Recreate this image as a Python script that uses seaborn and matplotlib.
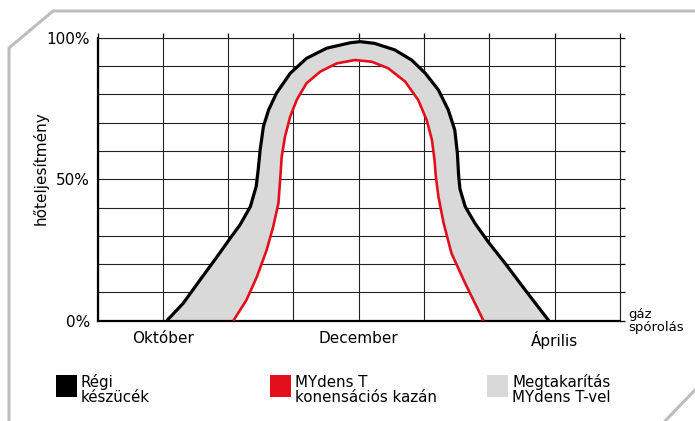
import matplotlib
matplotlib.use('Agg')
import matplotlib.pyplot as plt
import seaborn as sns
from matplotlib.lines import Line2D
from matplotlib.patches import Rectangle

# Régi készülék (fekete görbe)
old_x = [1.06, 1.31, 1.57, 1.83, 2.03, 2.18, 2.34, 2.43, 2.46, 2.49, 2.54, 2.62, 2.74,
         2.95, 3.20, 3.51, 3.87, 4.02, 4.24, 4.55, 4.81, 5.02, 5.22, 5.37, 5.47, 5.51,
         5.53, 5.55, 5.63, 5.78, 5.98, 6.24, 6.55, 6.91]
old_y = [0, 6.1, 14.4, 22.6, 29.1, 33.8, 40.3, 47.5, 53.3, 60.3, 68.6, 74.5, 80.4,
         87.4, 92.7, 96.3, 98.2, 98.6, 98.0, 95.7, 92.1, 87.4, 81.5, 74.5, 67.4, 59.2,
         51.0, 46.5, 40.3, 34.4, 27.9, 20.3, 10.8, 0]

# MYdens T (piros görbe)
new_x = [2.08, 2.28, 2.44, 2.59, 2.69, 2.77, 2.80, 2.82, 2.87, 2.95, 3.05, 3.20, 3.41,
         3.66, 3.94, 4.20, 4.45, 4.71, 4.91, 5.04, 5.12, 5.16, 5.18, 5.22, 5.30, 5.42,
         5.63, 5.91]
new_y = [0, 7.3, 15.5, 25.0, 33.2, 41.5, 50.9, 57.9, 65.0, 72.1, 78.0, 83.9, 88.0,
         90.9, 92.1, 91.5, 89.2, 84.5, 78.0, 70.9, 63.9, 56.8, 50.9, 43.8, 34.4, 23.8,
         13.2, 0]

x_ticks = list(range(9))
x_labels = ['', 'Október', '', '', 'December', '', '', 'Április', '']
y_ticks = list(range(0, 101, 10))
y_labels = ['0%', '', '', '', '', '50%', '', '', '', '', '100%']

legend_labels = ['Régi\nkészücék', 'MYdens T\nkonensációs kazán', 'Megtakarítás\nMYdens T-vel']
legend_colors = ['#000000', '#e3101c', '#d9d9d9']

RED = '#e3101c'
GREY = '#d9d9d9'


def main():
    sns.set_style('white')
    plt.rcParams['font.family'] = ['DejaVu Sans']
    plt.rcParams['text.color'] = 'black'
    plt.rcParams['axes.labelcolor'] = 'black'
    plt.rcParams['xtick.color'] = 'black'
    plt.rcParams['ytick.color'] = 'black'

    fig = plt.figure(figsize=(6.95, 4.21), dpi=100)
    ax = fig.add_axes([0.1403, 0.2382, 0.7518, 0.6723])

    ax.fill(old_x + new_x[::-1], old_y + new_y[::-1], color=GREY, lw=0, zorder=1)
    sns.lineplot(x=old_x, y=old_y, sort=False, color='black', lw=2.3, ax=ax, zorder=3,
                 solid_joinstyle='round', solid_capstyle='butt')
    sns.lineplot(x=new_x, y=new_y, sort=False, color=RED, lw=1.9, ax=ax, zorder=3,
                 solid_joinstyle='round', solid_capstyle='butt')

    ax.set_xlim(0, 8)
    ax.set_ylim(0, 100)
    ax.set_xticks(x_ticks)
    ax.set_xticklabels(x_labels, fontsize=11)
    ax.set_yticks(y_ticks)
    ax.set_yticklabels(y_labels, fontsize=11)
    ax.grid(True, color='#222222', lw=0.8)
    ax.set_axisbelow(True)
    ax.tick_params(axis='both', which='both', direction='out', length=3.5, width=0.9,
                   color='black', top=True, right=True,
                   labeltop=False, labelright=False)
    ax.tick_params(axis='y', pad=2)
    ax.tick_params(axis='x', pad=4)

    for side in ['top', 'right']:
        ax.spines[side].set_linewidth(0.8)
        ax.spines[side].set_color('#222222')
    for side in ['left', 'bottom']:
        ax.spines[side].set_linewidth(1.6)
        ax.spines[side].set_color('black')

    ax.set_ylabel('hőteljesítmény', fontsize=11)
    ax.yaxis.set_label_coords(-0.094, 0.54)

    fig.text(628 / 695, 1 - 321 / 421, 'gáz\nspórolás', fontsize=9.5,
             ha='left', va='center', linespacing=0.95)

    # jelmagyarázat
    starts = [56, 270, 487]
    for sx, lab, col in zip(starts, legend_labels, legend_colors):
        fig.add_artist(Rectangle((sx / 695, 1 - 397 / 421), 21 / 695, 22 / 421,
                                 transform=fig.transFigure, color=col, lw=0))
        fig.text((sx + 25) / 695, 1 - 390 / 421, lab, fontsize=10.8,
                 ha='left', va='center', linespacing=1.0)

    # szürke keret
    frame = '#bdbdbd'
    fig.add_artist(Line2D([9 / 695, 9 / 695, 53 / 695, 1.0],
                          [0, 1 - 48 / 421, 1 - 11 / 421, 1 - 11 / 421],
                          transform=fig.transFigure, color=frame, lw=2.2))
    fig.add_artist(Line2D([665 / 695, 1.0], [0, 1 - 390 / 421],
                          transform=fig.transFigure, color=frame, lw=2.2))

    fig.savefig('out.png', dpi=100)
    return 0


main()
